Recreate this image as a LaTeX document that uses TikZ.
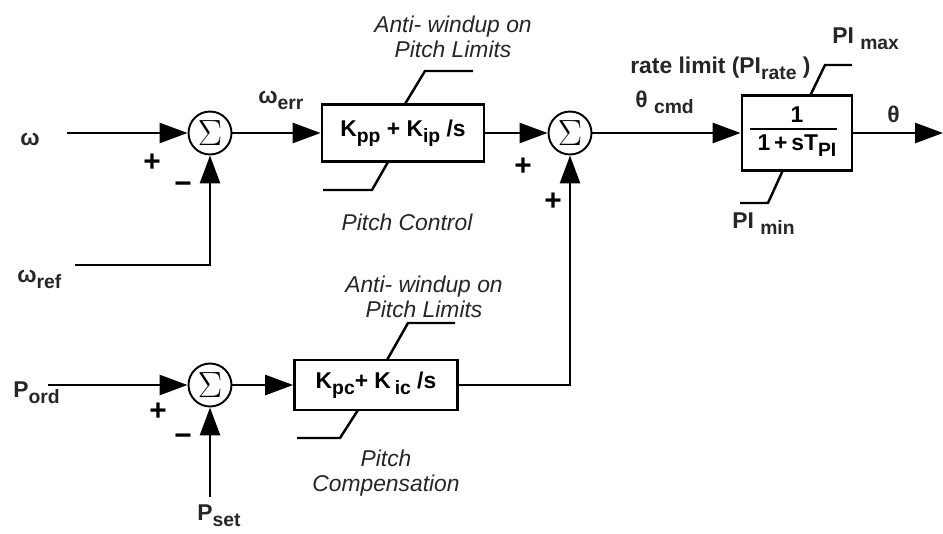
\documentclass[tikz,border=0pt]{standalone}
\usepackage{fontspec}
\setmainfont{Liberation Sans}
\usetikzlibrary{arrows.meta}
\newcommand{\subtxt}[1]{\raisebox{-0.5ex}{\fontsize{11}{12}\selectfont #1}}

\begin{document}
\begin{tikzpicture}[x=0.02cm, y=-0.02cm,
    font=\fontsize{13}{15}\selectfont\bfseries,
    sumnode/.style={draw, circle, line width=1.1pt, minimum size=0.86cm, inner sep=0pt, font=\fontsize{22}{22}\selectfont},
    blk/.style={draw, line width=1.6pt, inner sep=0pt},
    lbl/.style={inner sep=0pt, anchor=base west, text=black!85},
    note/.style={inner sep=0pt, align=center, font=\fontsize{13}{14.2}\selectfont\itshape, text=black!85},
    sgn/.style={inner sep=0pt, font=\fontsize{17}{17}\selectfont\bfseries},
    lim/.style={line width=1.4pt},
    arr/.style={-{Triangle[length=0.56cm, width=0.4cm]}, line width=1.6pt}
]
\useasboundingbox (0,0) rectangle (943,534);

% Pitch control branch
\node[sumnode] (s1) at (210,133) {$\Sigma$};
\node[blk, minimum width=3.24cm, minimum height=1.14cm] (b1) at (403,133) {K\subtxt{pp} + K\subtxt{ip} /s};
\node[sumnode] (s2) at (570,133) {$\Sigma$};

% Pitch compensation branch
\node[sumnode] (s3) at (210,385) {$\Sigma$};
\node[blk, minimum width=3.26cm, minimum height=1.0cm] (b2) at (376,385) {K\subtxt{pc}+ K\,\subtxt{ic} /s};

% Actuator with limits
\node[blk, minimum width=2.2cm, minimum height=1.5cm] (b3) at (797,133) {};
\node[inner sep=0pt] (num) at (797,115) {1};
\node[inner sep=0pt] (den) at (797,146) {1\,+\,sT\subtxt{PI}};
\draw[line width=1.4pt] (750,129) -- (837,129);

% free ends
\coordinate (win)   at (67,133);
\coordinate (wref)  at (75,265);
\coordinate (pord)  at (48,385);
\coordinate (pset)  at (210,497);
\coordinate (thout) at (943,133);

% labels
\node[lbl] (lw)    at (20,145)  {ω};
\node[lbl] (lwref) at (17,282)  {ω\subtxt{ref}};
\node[lbl] (lwerr) at (258,103) {ω\subtxt{err}};
\node[lbl] (lpord) at (13,397)  {P\subtxt{ord}};
\node[lbl] (lpset) at (197,520) {P\subtxt{set}};
\node[lbl] (lcmd)  at (635,107) {θ \subtxt{cmd}};
\node[lbl] (lrate) at (630,73)  {rate limit (PI\subtxt{rate} )};
\node[lbl] (lmax)  at (832,43)  {PI \subtxt{max}};
\node[lbl] (lmin)  at (732,228) {PI \subtxt{min}};
\node[lbl] (lth)   at (887,122) {θ};

\node[note] (aw1) at (453,37)  {Anti- windup on\\Pitch Limits};
\node[note] (pc)  at (407,222) {Pitch Control};
\node[note] (aw2) at (424,297) {Anti- windup on\\Pitch Limits};
\node[note] (pcc) at (386,473) {Pitch\\Compensation};

% signs
\node[sgn] (p1) at (152,163) {+};
\node[sgn] (m1) at (183,188) {\textminus};
\node[sgn] (p2) at (523,167) {+};
\node[sgn] (p3) at (553,202) {+};
\node[sgn] (p4) at (158,412) {+};
\node[sgn] (m2) at (183,440) {\textminus};

% limit marks
\draw[lim] (405,104) -- (425,71) -- (473,71);
\draw[lim] (388,162) -- (372,190) -- (323,190);
\draw[lim] (387,360) -- (408,323) -- (455,323);
\draw[lim] (358,410) -- (340,438) -- (297,438);
\draw[lim] (810,96) -- (825,65) -- (852,65);
\draw[lim] (783,170) -- (768,203) -- (740,203);

% connections
\draw[arr] (win)  -- (s1);
\draw[arr] (wref) -| (s1);
\draw[arr] (s1)   -- (b1);
\draw[arr] (b1)   -- (s2);
\draw[arr] (s2)   -- (b3);
\draw[arr] (b3)   -- (thout);
\draw[arr] (pord) -- (s3);
\draw[arr] (pset) -- (s3);
\draw[arr] (s3)   -- (b2);
\draw[arr] (b2)   -| (s2);
\end{tikzpicture}
\end{document}
